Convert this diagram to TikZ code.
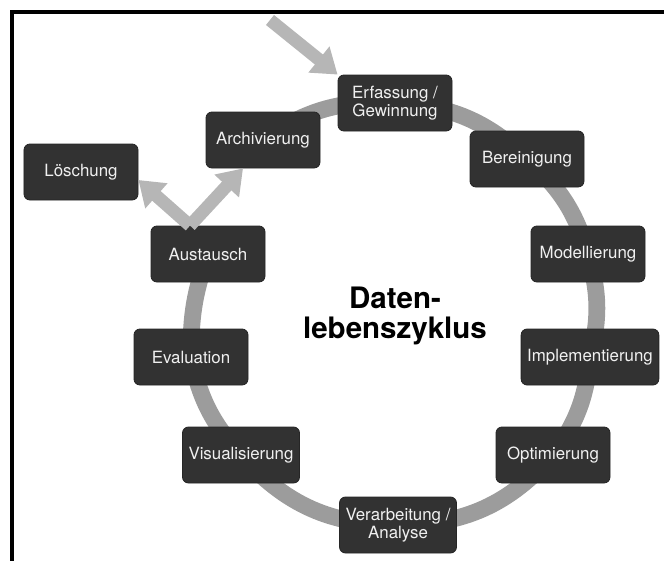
\documentclass[tikz,border=0pt]{standalone}
\usepackage{fontspec}
\setmainfont{TeX Gyre Heros}
\usepackage{tikz}
\usetikzlibrary{arrows.meta, backgrounds}

\definecolor{boxgray}{HTML}{323232}
\definecolor{ringgray}{HTML}{9C9C9C}
\definecolor{arrowgray}{HTML}{B6B6B6}

\begin{document}
\begin{tikzpicture}[
    phase/.style={rectangle, rounded corners=0.15cm, draw=black!85, fill=boxgray, line width=0.6pt, text=white!94!black, minimum width=2.85cm, minimum height=1.4cm, inner xsep=0.15cm, align=center, font=\fontsize{12}{13}\selectfont},
    ring/.style={draw=ringgray, line width=0.42cm},
    flow/.style={draw=arrowgray, line width=0.32cm, -{Triangle[width=0.8cm, length=0.6cm]}}
]
    \useasboundingbox (0,0) rectangle (16.6,-14.025);

    % Рамка (верх и левый край)
    \draw[line width=2.2pt] (16.6,-0.3) -- (0.3,-0.3) -- (0.3,-14.025);

    % Этапы цикла (по часовой стрелке от верха)
    \node[phase] (erfass) at (9.875, -2.575) {Erfassung /\\Gewinnung};
    \node[phase] (berein) at (13.175, -3.975) {Bereinigung};
    \node[phase] (modell) at (14.7, -6.35) {Modellierung};
    \node[phase] (implem) at (14.75, -8.925) {Implementierung};
    \node[phase] (optim) at (13.825, -11.375) {Optimierung};
    \node[phase] (verarb) at (9.95, -13.125) {Verarbeitung /\\Analyse};
    \node[phase] (visual) at (6.025, -11.375) {Visualisierung};
    \node[phase] (eval) at (4.775, -8.925) {Evaluation};
    \node[phase] (austausch) at (5.2, -6.35) {Austausch};
    \node[phase] (archiv) at (6.575, -3.5) {Archivierung};
    \node[phase] (loesch) at (2.025, -4.3) {Löschung};

    % Titel in der Mitte
    \node[align=center, font=\fontsize{21}{22}\selectfont\bfseries] (titel) at (9.875, -7.9) {Daten-\\lebenszyklus};

    % Кольцо
    \begin{scope}[on background layer]
        \path[ring] (erfass.center) edge [bend left=20] (berein.center);
        \path[ring] (berein.center) edge [bend left=16] (modell.center);
        \path[ring] (modell.center) edge [bend left=15] (implem.center);
        \path[ring] (implem.center) edge [bend left=15] (optim.center);
        \path[ring] (optim.center) edge [bend left=24] (verarb.center);
        \path[ring] (verarb.center) edge [bend left=24] (visual.center);
        \path[ring] (visual.center) edge [bend left=15] (eval.center);
        \path[ring] (eval.center) edge [bend left=10] (austausch.center);
        \path[ring] (archiv.center) edge [bend left=19] (erfass.center);
    \end{scope}

    % Входящая стрелка и ответвления
    \coordinate (start) at (6.75, -0.5);
    \draw[flow] (start) -- (erfass.north west);
    \draw[flow] ([xshift=-0.45cm]austausch.north) -- ([xshift=-0.5cm]archiv.south);
    \draw[flow] ([xshift=-0.45cm]austausch.north) -- ([yshift=-0.2cm]loesch.east);
\end{tikzpicture}
\end{document}
